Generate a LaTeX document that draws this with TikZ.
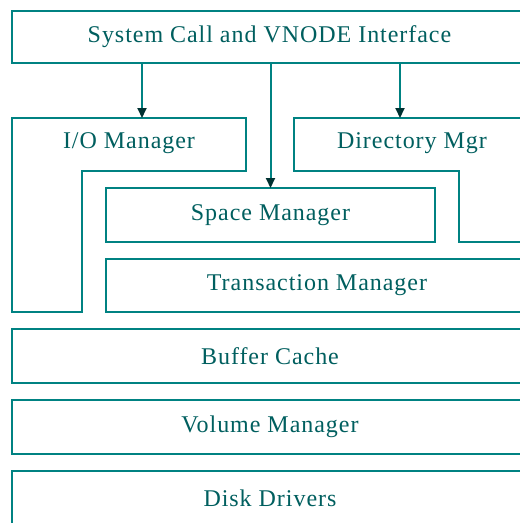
\documentclass[tikz,border=0pt]{standalone}
\usepackage{fontspec}
\setmainfont{Liberation Serif}[LetterSpace=4]
\usetikzlibrary{arrows.meta}
\definecolor{lineteal}{RGB}{0,130,130}
\definecolor{textteal}{RGB}{0,95,95}
\definecolor{tipdark}{RGB}{0,50,50}
\begin{document}
\begin{tikzpicture}[x=1pt,y=-1pt,
  box/.style={draw=lineteal, line width=2pt, rectangle, inner sep=0pt, outer sep=0pt,
    text=textteal, font=\fontsize{24}{26}\selectfont},
  lbl/.style={text=textteal, font=\fontsize{24}{26}\selectfont, inner sep=0pt},
  outline/.style={draw=lineteal, line width=2pt, line join=miter},
  arr/.style={draw=lineteal, line width=2pt, -{Triangle[length=10pt,width=9pt,fill=tipdark,color=tipdark]}}]
\useasboundingbox (0,0) rectangle (520,523);
\clip (0,0) rectangle (520,523);
\fill[white] (0,0) rectangle (520,523);
% layered boxes
\node[box, minimum width=515pt, minimum height=52pt] (sys) at (269.5,37) {System Call and VNODE Interface};
\node[box, minimum width=329pt, minimum height=54pt] (space) at (270.5,215) {Space Manager};
\node[box, minimum width=422pt, minimum height=53pt] (trans) at (317,285.5) {Transaction Manager};
\node[box, minimum width=516pt, minimum height=54pt] (buf) at (270,356) {Buffer Cache};
\node[box, minimum width=516pt, minimum height=54pt] (vol) at (270,427) {Volume Manager};
\node[box, minimum width=516pt, minimum height=54pt] (disk) at (270,498) {Disk Drivers};
% L-shaped I/O Manager
\draw[outline] (12,118) -- (246,118) -- (246,171) -- (82,171) -- (82,312) -- (12,312) -- cycle;
\node[lbl] (io) at (129,143) {I/O Manager};
% Directory Mgr shape
\draw[outline] (527,118) -- (294,118) -- (294,171) -- (459,171) -- (459,242) -- (527,242) -- cycle;
\node[lbl] (dir) at (412,143) {Directory Mgr};
% arrow targets
\coordinate (ioin) at (142,118);
\coordinate (dirin) at (400,118);
\draw[arr] (sys.south -| ioin) -- (ioin);
\draw[arr] (sys.south -| space.north) -- (space.north);
\draw[arr] (sys.south -| dirin) -- (dirin);
\end{tikzpicture}
\end{document}
